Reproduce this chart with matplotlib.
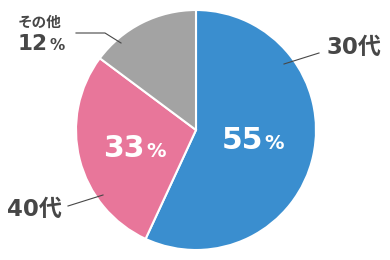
import matplotlib.pyplot as plt

# shares as drawn in the picture (clockwise from the top)
names = ['30代', '40代', 'その他']
shares = [56.9, 28.3, 14.8]
pct_labels = ['55', '33', '12']
colors = ['#3a8ecf', '#e8769a', '#a3a3a3']

plt.rcParams['font.family'] = ['DejaVu Sans', 'Noto Sans CJK JP']
txt = '#474747'

fig = plt.figure(figsize=(3.9, 2.6), dpi=100)
ax = fig.add_axes([0, 0, 1, 1])

# y axis is flipped (pixel-like coords), so counterclock=True runs clockwise on screen
ax.pie(shares, colors=colors, center=(196, 130), radius=120,
       startangle=-90, counterclock=True,
       wedgeprops=dict(edgecolor='white', linewidth=1.5))
ax.set_xlim(0, 390)
ax.set_ylim(260, 0)
ax.set_aspect('equal')
ax.axis('off')

# percentages inside
ax.text(263, 149, pct_labels[0], color='white', fontsize=21.5, fontweight='bold', ha='right', va='baseline')
ax.text(264, 149, '%', color='white', fontsize=14, fontweight='bold', ha='left', va='baseline')
ax.text(145, 157, pct_labels[1], color='white', fontsize=21.5, fontweight='bold', ha='right', va='baseline')
ax.text(146, 157, '%', color='white', fontsize=14, fontweight='bold', ha='left', va='baseline')

# outside labels with leader lines
ax.plot([284, 319], [64, 53], color=txt, lw=0.8)
ax.text(327, 54, names[0], color=txt, fontsize=16.5, fontweight='bold', ha='left', va='baseline')

ax.plot([68, 103], [206, 195], color=txt, lw=0.8)
ax.text(7, 216, names[1], color=txt, fontsize=16.5, fontweight='bold', ha='left', va='baseline')

ax.plot([76, 105, 121], [33, 33, 43], color=txt, lw=0.8)
ax.text(18, 27, names[2], color=txt, fontsize=10.5, fontweight='bold', ha='left', va='baseline')
ax.text(18, 50, pct_labels[2], color=txt, fontsize=15.5, fontweight='bold', ha='left', va='baseline')
ax.text(49, 50, '%', color=txt, fontsize=11, fontweight='bold', ha='left', va='baseline')

fig.savefig('out.png', dpi=100)
